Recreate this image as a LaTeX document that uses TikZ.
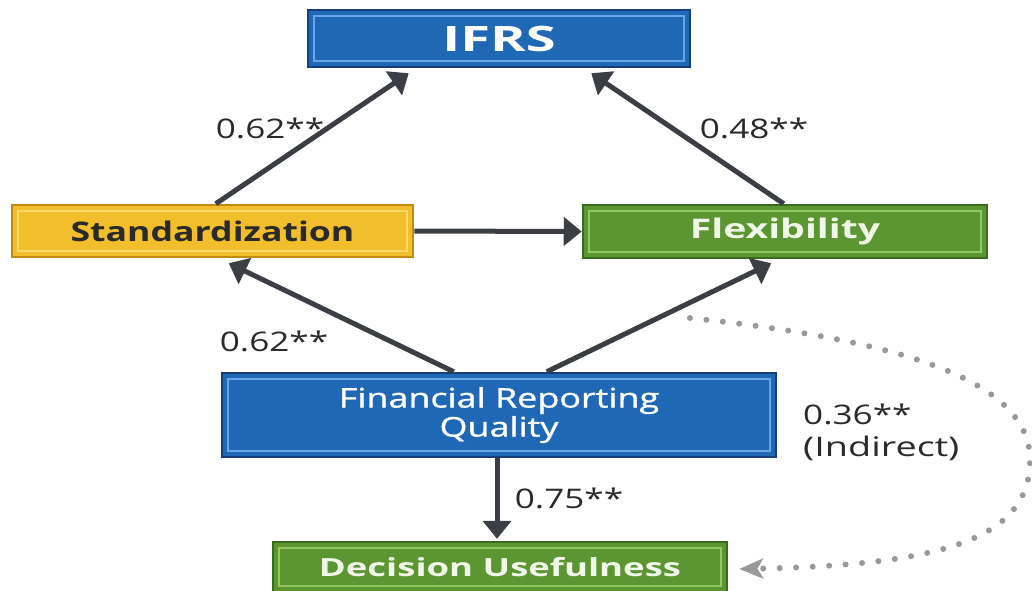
\documentclass[tikz,border=0pt]{standalone}
\usepackage{fontspec}
\usepackage{graphicx}
\setmainfont{Open Sans}
\usetikzlibrary{arrows.meta}
\definecolor{bfill}{HTML}{1F68B5}
\definecolor{bdark}{HTML}{163F7A}
\definecolor{blight}{HTML}{6AA6E6}
\definecolor{yfill}{HTML}{F2BE2C}
\definecolor{ydark}{HTML}{C08A14}
\definecolor{ylight}{HTML}{F9D86A}
\definecolor{gfill}{HTML}{5B9632}
\definecolor{gdark}{HTML}{3A6A1E}
\definecolor{glight}{HTML}{93C964}
\definecolor{gtext}{HTML}{F1F7E8}
\definecolor{arrowc}{HTML}{3B3E44}
\definecolor{dotc}{HTML}{999999}
\definecolor{labelc}{HTML}{2A2A2A}
% horizontally widened text
\newcommand\widetext[2]{\scalebox{#1}[1]{#2}}
\begin{document}
\begin{tikzpicture}[x=1pt,y=-1pt,
  basebox/.style={rectangle, inner sep=0pt, line width=2.5pt, align=center},
  inner/.style={path picture={\draw[#1, line width=2.5pt]
      ([xshift=6pt,yshift=-6pt]path picture bounding box.north west) rectangle
      ([xshift=-6pt,yshift=6pt]path picture bounding box.south east);}},
  bluebox/.style={basebox, fill=bfill, draw=bdark, inner=blight, text=white},
  yellowbox/.style={basebox, fill=yfill, draw=ydark, inner=ylight, text=labelc},
  greenbox/.style={basebox, fill=gfill, draw=gdark, inner=glight, text=gtext},
  conn/.style={draw=arrowc, line width=5pt, -{Triangle[length=18pt,width=28pt]}},
  indirect/.style={draw=dotc, line width=6pt, line cap=round, dash pattern=on 0pt off 16.5pt,
      -{Stealth[length=24pt,width=20pt,inset=6pt]}},
  coef/.style={text=labelc, font=\fontsize{27}{32}\selectfont, inner sep=0pt, align=left}
]
\useasboundingbox[fill=white] (0,0) rectangle (1032,590);

% boxes
\node[bluebox, minimum width=382pt, minimum height=57pt,
      font=\fontsize{35}{40}\selectfont\bfseries] (ifrs) at (499,38.5) {\widetext{1.55}{IFRS}};
\node[yellowbox, minimum width=401pt, minimum height=52pt,
      font=\fontsize{27}{32}\selectfont\bfseries] (std) at (212.5,231) {\widetext{1.32}{Standardization}};
\node[greenbox, minimum width=404pt, minimum height=53pt,
      font=\fontsize{27}{32}\selectfont\bfseries] (flex) at (785,231.5) {\widetext{1.45}{Flexibility}};
\node[bluebox, minimum width=554pt, minimum height=84pt,
      font=\fontsize{27}{29}\selectfont\addfontfeature{FakeBold=1}] (frq) at (499,415)
      {\widetext{1.33}{Financial Reporting}\\\widetext{1.33}{Quality}};
\node[greenbox, minimum width=454pt, minimum height=50pt,
      font=\fontsize{25}{30}\selectfont\bfseries] (du) at (500,567) {\widetext{1.46}{Decision Usefulness}};

% direct paths
\draw[conn] ([xshift=205pt]std.north west) -- ([xshift=102pt,yshift=-5pt]ifrs.south west);
\draw[conn] ([xshift=202pt]flex.north west) -- ([xshift=-100pt,yshift=-5pt]ifrs.south east);
\draw[conn] (std.east) -- (flex.west);
\draw[conn] ([xshift=233pt]frq.north west) -- ([xshift=218pt,yshift=-5pt]std.south west);
\draw[conn] ([xshift=326pt]frq.north west) -- ([xshift=-217pt,yshift=-4pt]flex.south east);
\draw[conn] ([xshift=-2pt]frq.south) -- ([xshift=-3pt,yshift=2pt]du.north);

% indirect path
\coordinate (dotstart) at (690,318);
\draw[indirect] (dotstart) .. controls (900,340) and (1030,380) .. (1030,460)
   .. controls (1030,540) and (940,565) .. ([xshift=11pt,yshift=-2pt]du.east);

% coefficients
\node[coef] (c1) at (270,128) {\widetext{1.3}{0.62**}};
\node[coef] (c2) at (754,128) {\widetext{1.3}{0.48**}};
\node[coef] (c3) at (274,341) {\widetext{1.3}{0.62**}};
\node[coef] (c4) at (569,498) {\widetext{1.3}{0.75**}};
\node[coef, anchor=west] (c5) at (803,432) {\widetext{1.3}{0.36**}\\\widetext{1.4}{(Indirect)}};
\end{tikzpicture}
\end{document}
